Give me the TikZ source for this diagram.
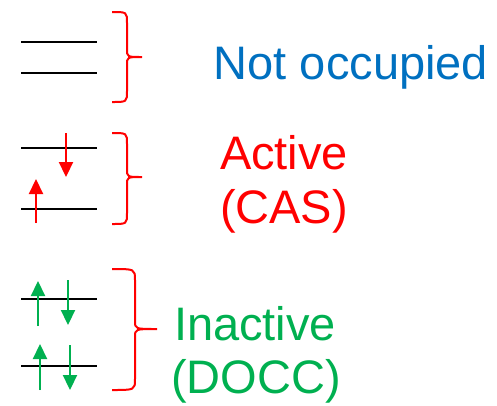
\documentclass[tikz,border=0pt]{standalone}
\usepackage{fontspec}
\setmainfont{Liberation Sans}
\usetikzlibrary{arrows.meta}
\definecolor{occblue}{HTML}{0070C0}
\definecolor{casred}{HTML}{FF0000}
\definecolor{doccgreen}{HTML}{00B050}
\tikzset{
  level/.style={draw=black, line width=2pt},
  spin/.style={line width=2.2pt, -{Triangle[width=14pt,length=15pt]}},
  bracestroke/.style={draw=casred, line width=2pt},
  lbl/.style={font=\fontsize{47}{54}\selectfont, anchor=base, inner sep=0pt},
}
% right brace: ends at x0, straight part at xm, tip at xt; top yt, middle ym, bottom yb
\newcommand{\shellbrace}[6]{%
  \draw[bracestroke] (#1,#4) .. controls (#2,#4) .. (#2,#4+11)
    -- (#2,#5-8) .. controls (#2,#5) .. (#3,#5)
    .. controls (#2,#5) .. (#2,#5+8)
    -- (#2,#6-11) .. controls (#2,#6) .. (#1,#6);}
\begin{document}
\begin{tikzpicture}[x=1pt,y=-1pt]
  \useasboundingbox (0,0) rectangle (497,405);

  % empty orbitals
  \coordinate (e1a) at (21,42);  \coordinate (e1b) at (97,42);
  \coordinate (e2a) at (21,73);  \coordinate (e2b) at (97,73);
  \draw[level] (e1a) -- (e1b);
  \draw[level] (e2a) -- (e2b);
  \shellbrace{112}{127}{142}{12}{57}{102}
  \node[lbl, text=occblue] (notocc) at (351,79) {Not occupied};

  % active orbitals, singly occupied
  \coordinate (a1a) at (21,148); \coordinate (a1b) at (97,148);
  \coordinate (a2a) at (21,209); \coordinate (a2b) at (97,209);
  \draw[level] (a1a) -- (a1b);
  \draw[level] (a2a) -- (a2b);
  \coordinate (r1s) at (66,133); \coordinate (r1e) at (66,177);
  \coordinate (r2s) at (36,223); \coordinate (r2e) at (36,179);
  \draw[spin, draw=casred, fill=casred] (r1s) -- (r1e);
  \draw[spin, draw=casred, fill=casred] (r2s) -- (r2e);
  \shellbrace{112}{127}{142}{133}{177}{224}
  \node[lbl, text=casred] (active) at (284,169) {Active};
  \node[lbl, text=casred] (cas) at (284,223) {(CAS)};

  % inactive orbitals, doubly occupied
  \coordinate (d1a) at (21,299); \coordinate (d1b) at (97,299);
  \coordinate (d2a) at (21,366); \coordinate (d2b) at (97,366);
  \draw[level] (d1a) -- (d1b);
  \draw[level] (d2a) -- (d2b);
  \coordinate (g1s) at (38,326); \coordinate (g1e) at (38,281);
  \coordinate (g2s) at (68,280); \coordinate (g2e) at (68,325);
  \coordinate (g3s) at (40,390); \coordinate (g3e) at (40,344);
  \coordinate (g4s) at (70,345); \coordinate (g4e) at (70,390);
  \foreach \s/\e in {g1s/g1e, g2s/g2e, g3s/g3e, g4s/g4e}
    \draw[spin, draw=doccgreen, fill=doccgreen] (\s) -- (\e);
  \shellbrace{112}{135}{157}{269}{329}{390}
  \node[lbl, text=doccgreen] (inactive) at (255,340) {Inactive};
  \node[lbl, text=doccgreen] (docc) at (256,393) {(DOCC)};
\end{tikzpicture}
\end{document}
